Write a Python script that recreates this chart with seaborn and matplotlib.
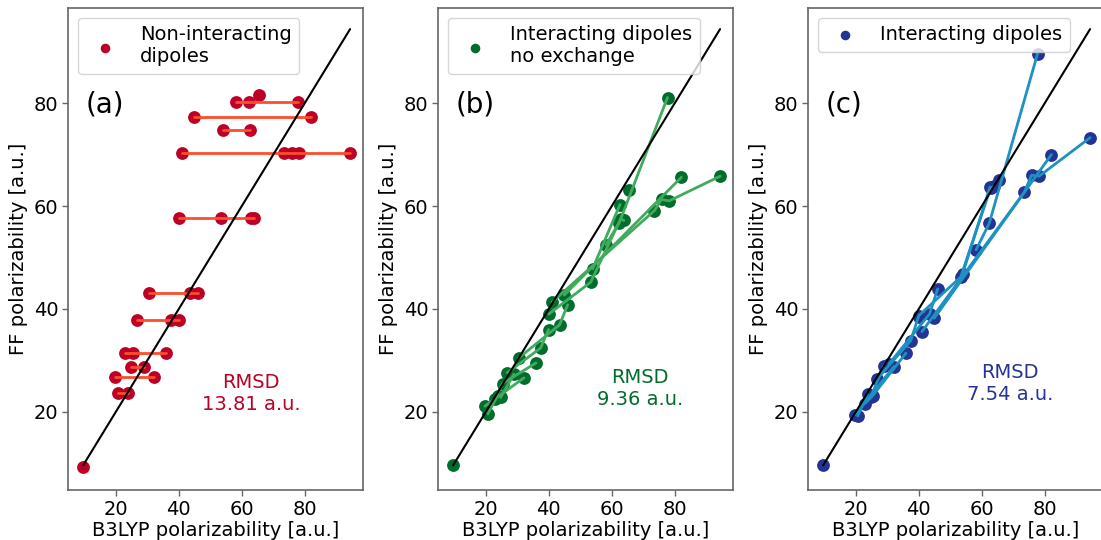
import numpy as np
import pandas as pd
import matplotlib
matplotlib.use("Agg")
import matplotlib.pyplot as plt
import seaborn as sns

# ---------------- data ----------------
group_ids = [1, 1, 1, 2, 3, 3, 4, 4, 5, 5, 5, 5, 5, 6, 6, 6, 6,
             7, 7, 7, 8, 8, 8, 9, 9, 9, 10, 10, 11, 11, 12, 12, 13]
b3lyp = [58.2, 62.4, 77.7, 65.6, 44.9, 82.1, 53.9, 62.6,
         41.0, 73.5, 75.8, 78.2, 94.4, 40.0, 53.3, 62.8, 63.8,
         30.5, 43.4, 46.0, 26.8, 37.4, 39.9, 22.9, 25.3, 35.9,
         24.7, 28.9, 19.7, 32.1, 20.6, 23.7, 9.6]
ff_nonint = [80.3, 80.3, 80.3, 81.6, 77.3, 77.3, 74.7, 74.7,
             70.4, 70.4, 70.4, 70.4, 70.4, 57.6, 57.6, 57.6, 57.6,
             43.0, 43.0, 43.0, 37.9, 37.9, 37.9, 31.4, 31.4, 31.4,
             28.8, 28.8, 26.8, 26.8, 23.7, 23.7, 9.3]
ff_noexch = [52.5, 56.8, 81.1, 63.2, 42.7, 65.6, 47.8, 60.3,
             41.3, 59.1, 61.3, 61.0, 65.8, 39.0, 45.2, 57.5, 57.2,
             30.5, 36.9, 40.8, 27.6, 32.4, 36.0, 22.5, 25.5, 29.5,
             22.8, 27.3, 21.1, 26.6, 19.6, 23.1, 9.6]
ff_int = [51.5, 56.7, 89.6, 65.0, 38.2, 70.0, 46.8, 63.7,
          35.6, 62.7, 66.0, 65.8, 73.3, 38.7, 46.2, 63.5, 63.8,
          29.3, 39.0, 43.9, 26.4, 33.8, 38.5, 21.6, 23.1, 31.4,
          22.8, 29.0, 19.4, 28.8, 19.2, 23.4, 9.7]

panel_tags = ["(a)", "(b)", "(c)"]
legend_labels = ["Non-interacting\ndipoles", "Interacting dipoles\nno exchange",
                 "Interacting dipoles"]
rmsd_texts = ["RMSD\n13.81 a.u.", "RMSD\n9.36 a.u.", "RMSD\n7.54 a.u."]
ff_series = [ff_nonint, ff_noexch, ff_int]
marker_colors = ["#bd0026", "#006d2c", "#253494"]
line_colors = ["#fc4e2a", "#41ab5d", "#1d91c0"]

# ---------------- figure ----------------
sns.set_style("white")
plt.rcParams["font.family"] = ["DejaVu Sans"]
plt.rcParams["text.color"] = "black"
plt.rcParams["axes.labelcolor"] = "black"
plt.rcParams["xtick.color"] = "black"
plt.rcParams["ytick.color"] = "black"

fig = plt.figure(figsize=(11.01, 5.40), dpi=100)
lefts = [68 / 1101, 438 / 1101, 808 / 1101]
axw, axh = 295 / 1101, 482 / 540
axb = 50 / 540

spine_col = "#666666"
lims = (4.8, 98.5)
diag = [min(b3lyp), max(b3lyp)]
text_pos = [(0.62, 0.20), (0.685, 0.21), (0.685, 0.22)]

for i in range(3):
    ax = fig.add_axes([lefts[i], axb, axw, axh])
    df = pd.DataFrame({"group": group_ids, "b3lyp": b3lyp, "ff": ff_series[i]})
    sns.scatterplot(data=df, x="b3lyp", y="ff", ax=ax, color=marker_colors[i],
                    s=85, linewidth=0, label=legend_labels[i], zorder=2)
    sns.lineplot(data=df, x="b3lyp", y="ff", units="group", estimator=None,
                 sort=True, ax=ax, color=line_colors[i], lw=2.0,
                 legend=False, zorder=3)
    ax.plot(diag, diag, color="black", lw=1.5, zorder=4)
    ax.set_xlim(*lims)
    ax.set_ylim(*lims)
    ax.set_xticks([20, 40, 60, 80])
    ax.set_yticks([20, 40, 60, 80])
    ax.set_xlabel("B3LYP polarizability [a.u.]", fontsize=14, labelpad=2)
    ax.set_ylabel("FF polarizability [a.u.]", fontsize=14, labelpad=4)
    ax.tick_params(axis="both", labelsize=14, length=4, width=1,
                   color=spine_col, labelcolor="black", bottom=True, left=True,
                   pad=3)
    for sp in ax.spines.values():
        sp.set_color(spine_col)
        sp.set_linewidth(1.2)
    ax.text(0.06, 0.80, panel_tags[i], transform=ax.transAxes,
            fontsize=20, ha="left", va="center", color="black")
    ax.text(text_pos[i][0], text_pos[i][1], rmsd_texts[i], transform=ax.transAxes,
            fontsize=14, ha="center", va="center", multialignment="center",
            color=marker_colors[i], linespacing=1.2)
    ax.legend(loc="upper left", fontsize=14, markerscale=0.75,
              handletextpad=0.8, borderpad=0.4, labelspacing=0.3)

fig.savefig("out.png", dpi=100)
